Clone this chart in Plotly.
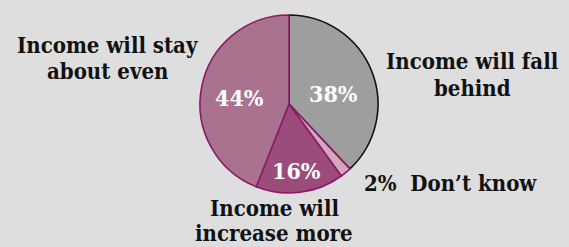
import plotly.graph_objects as go

categories = ["Income will fall<br>behind", "Don\u2019t know", "Income will<br>increase more", "Income will stay<br>about even"]
values = [38, 2, 16, 44]
colors = ["#9e9e9e", "#d2a8bb", "#9b4c7b", "#a9728f"]
line_colors = ["#111111", "#8b1a6b", "#8b1a6b", "#8b1a6b"]

W, H = 569, 247

def px(x, y):
    return x / W, 1 - y / H

fig = go.Figure(go.Pie(
    labels=categories,
    values=values,
    sort=False,
    direction="clockwise",
    rotation=0,
    textinfo="none",
    hoverinfo="label+percent",
    marker=dict(colors=colors, line=dict(color=line_colors, width=1.6)),
    domain=dict(x=[200 / W, 378 / W], y=[1 - 193 / H, 1 - 15 / H]),
    showlegend=False,
))

FAM = "DejaVu Serif Condensed, DejaVu Serif, serif"
font_lbl = dict(family=FAM, size=22, color="#111111", weight="bold")
font_pct = dict(family=FAM, size=23, color="#ffffff", weight="bold")

ann = []
pct_pos = {0: (333, 93), 2: (296, 170), 3: (239, 97)}
for i, (x, y) in pct_pos.items():
    ax, ay = px(x, y)
    ann.append(dict(x=ax, y=ay, xref="paper", yref="paper", text=f"{values[i]}%",
                    showarrow=False, font=font_pct, xanchor="center", yanchor="middle"))

# outside labels, one annotation per line (x center, y centers of lines)
lbl_pos = {0: (472, [61, 88]), 3: (107, [45, 71]), 2: (274, [208, None])}
for i, (x, ys) in lbl_pos.items():
    for line, y in zip(categories[i].split("<br>"), ys):
        if y is None:
            ax, _ = px(x, 0)
            ann.append(dict(x=ax, y=0, xref="paper", yref="paper", text=line,
                            showarrow=False, font=font_lbl, xanchor="center",
                            yanchor="bottom", borderpad=0))
        else:
            ax, ay = px(x, y)
            ann.append(dict(x=ax, y=ay, xref="paper", yref="paper", text=line,
                            showarrow=False, font=font_lbl, xanchor="center", yanchor="middle"))

ax, ay = px(362, 183)
ann.append(dict(x=ax, y=ay, xref="paper", yref="paper",
                text=f"{values[1]}%  {categories[1]}",
                showarrow=False, font=font_lbl, xanchor="left", yanchor="middle"))

fig.update_layout(
    width=W, height=H,
    margin=dict(l=0, r=0, t=0, b=0),
    paper_bgcolor="#dedede",
    plot_bgcolor="#dedede",
    annotations=ann,
)

fig.write_html("out.html", config={"displayModeBar": False},
               post_script="document.body.style.margin='0';document.body.style.overflow='hidden';")
